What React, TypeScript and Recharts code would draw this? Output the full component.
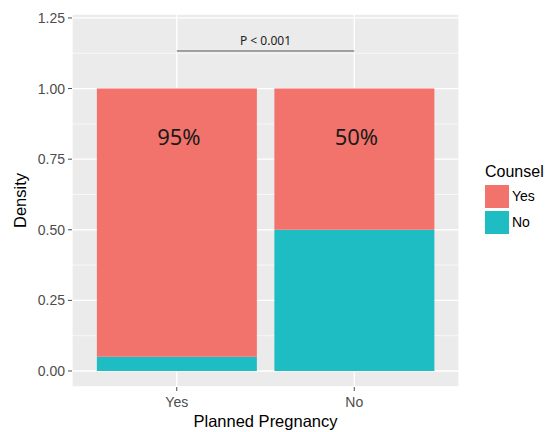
import React from "react";
import {
  BarChart,
  Bar,
  XAxis,
  YAxis,
  CartesianGrid,
  ReferenceLine,
  LabelList,
  Label,
} from "recharts";

const categories = ["Yes", "No"];
const counselYes = [0.95, 0.5];
const counselNo = [0.05, 0.5];
const pctLabels = ["95%", "50%"];
const yTicks = [0, 0.25, 0.5, 0.75, 1.0, 1.25];
const yMinorTicks = [0.125, 0.375, 0.625, 0.875, 1.125];
const annotationText = "P < 0.001";
const annotationY = 1.133;
const legendTitle = "Counsel";
const seriesNames = ["Yes", "No"];

const COLOR_YES = "#F2736C";
const COLOR_NO = "#1DBDC3";

const data = categories.map((c, i) => ({
  cat: c,
  yes: counselYes[i],
  no: counselNo[i],
  pct: pctLabels[i],
}));

const AXIS_FONT = "'Liberation Sans', Arial, sans-serif";

const PctLabel = (props: any) => {
  const { x, y, width, value } = props;
  return (
    <text
      x={x + width / 2 + 2}
      y={y + 47}
      textAnchor="middle"
      dominantBaseline="central"
      fontFamily="'Noto Sans', sans-serif"
      fontSize={22}
      fill="#1a1a1a"
    >
      {value}
    </text>
  );
};

const LegendContent = () => (
  <div style={{ fontFamily: AXIS_FONT, color: "#000" }}>
    <div style={{ fontSize: 16, lineHeight: "18px", marginBottom: 3 }}>{legendTitle}</div>
    {seriesNames.map((n, i) => (
      <div key={n} style={{ display: "flex", alignItems: "center", height: 24, marginBottom: 2 }}>
        <div
          style={{
            width: 24,
            height: 23,
            background: i === 0 ? COLOR_YES : COLOR_NO,
            marginRight: 3,
          }}
        />
        <span style={{ fontSize: 14 }}>{n}</span>
      </div>
    ))}
  </div>
);

export default function App() {
  return (
    <div style={{ position: "relative", width: 549, height: 432 }}>
      <style>{`body{margin:0;background:#fff}`}</style>
      <BarChart
        width={549}
        height={432}
        data={data}
        margin={{ top: 14, right: 90, left: 0, bottom: 0 }}
        barCategoryGap="5%"
      >
        <CartesianGrid
          fill="#EBEBEB"
          stroke="#FFFFFF"
          strokeWidth={1.3}
          horizontal={true}
          vertical={true}
        />
        <CartesianGrid
          yAxisId="minor"
          fill="none"
          stroke="#FFFFFF"
          strokeWidth={0.6}
          horizontal={true}
          vertical={false}
        />
        <XAxis
          dataKey="cat"
          height={45}
          padding={{ left: 16, right: 16 }}
          tickLine={{ stroke: "#4D4D4D" }}
          axisLine={false}
          tickSize={4}
          tickMargin={6}
          tick={{ fill: "#4D4D4D", fontSize: 14, fontFamily: AXIS_FONT }}
        >
          <Label
            value="Planned Pregnancy"
            position="insideBottom"
            offset={5}
            style={{ fontSize: 16.5, fontFamily: AXIS_FONT, fill: "#000" }}
          />
        </XAxis>
        <YAxis
          domain={[-0.0567, 1.264]}
          ticks={yTicks}
          allowDataOverflow
          width={72}
          axisLine={false}
          tickLine={{ stroke: "#4D4D4D" }}
          tickSize={4}
          tickMargin={3}
          tickFormatter={(v: number) => v.toFixed(2)}
          tick={{ fill: "#4D4D4D", fontSize: 14, fontFamily: AXIS_FONT }}
          label={{
            content: (p: any) => {
              const vb = p.viewBox || {};
              const cx = 20;
              const cy = vb.y + vb.height / 2;
              return (
                <text
                  x={cx}
                  y={cy}
                  transform={`rotate(-90 ${cx} ${cy})`}
                  textAnchor="middle"
                  dominantBaseline="central"
                  fontSize={16.5}
                  fontFamily={AXIS_FONT}
                  fill="#000"
                >
                  Density
                </text>
              );
            },
          }}
        />
        <YAxis
          yAxisId="minor"
          domain={[-0.0567, 1.264]}
          ticks={yMinorTicks}
          allowDataOverflow
          hide
        />
        <Bar dataKey="no" stackId="s" fill={COLOR_NO} isAnimationActive={false} />
        <Bar dataKey="yes" stackId="s" fill={COLOR_YES} isAnimationActive={false}>
          <LabelList dataKey="pct" content={PctLabel} />
        </Bar>
        <ReferenceLine
          segment={[
            { x: categories[0], y: annotationY },
            { x: categories[1], y: annotationY },
          ]}
          stroke="#555555"
          strokeWidth={1}
          label={{
            value: annotationText,
            position: "top",
            offset: 6,
            fontSize: 12,
            fontFamily: "'Noto Sans', sans-serif",
            fill: "#222",
          }}
        />
      </BarChart>
      <div style={{ position: "absolute", left: 485, top: 163 }}>
        <LegendContent />
      </div>
    </div>
  );
}
